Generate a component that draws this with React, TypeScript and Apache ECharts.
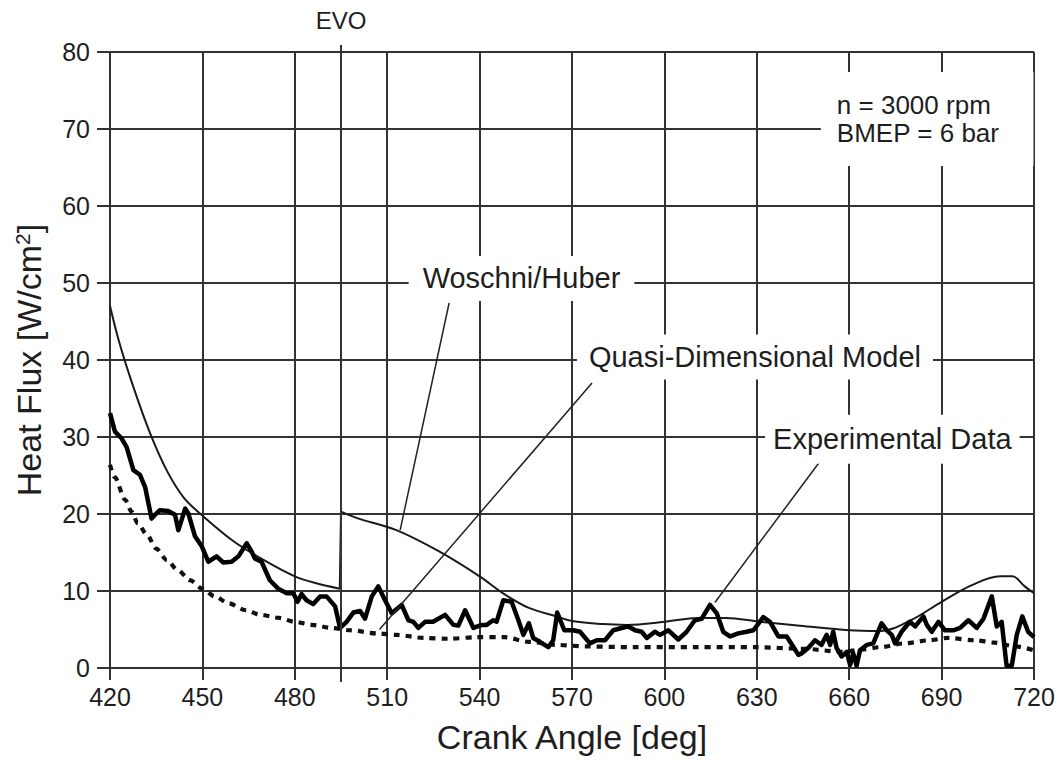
import React, { useEffect, useRef } from "react";
import * as echarts from "echarts";

// Crank angle [deg], heat flux [W/cm2]
const woschniBeforeEVO: [number, number][] = [
  [420, 47.0], [423, 42.3], [427.5, 36.6], [433, 30.5], [438.5, 25.6], [444, 22.1],
  [450, 19.8], [460, 16.5], [470, 14.0], [480, 11.9], [487, 11.0], [494.6, 10.3],
];

const woschniAfterEVO: [number, number][] = [
  [495, 20.3], [500, 19.5], [513, 17.9], [527, 15.1], [540, 11.9], [548, 9.6],
  [556, 7.8], [565, 6.7], [570, 6.1], [580, 5.7], [588, 5.6], [600, 6.0], [611, 6.5],
  [620, 6.5], [631, 6.0], [644, 5.5], [660, 4.9], [670, 4.8], [680, 6.2], [690, 8.6],
  [700, 10.8], [709, 11.9], [713, 11.9], [717, 10.6], [720, 9.7],
];

const quasiDimensional: [number, number][] = [
  [420, 26.4], [421.5, 24.8], [425, 21.8], [427, 20.3], [429, 18.8], [432, 17.3],
  [435, 15.5], [438.5, 14.0], [442, 12.7], [446, 11.4], [450, 10.3], [454, 9.3],
  [458.5, 8.4], [464, 7.5], [469, 6.9], [475, 6.5], [480, 6.0], [485.5, 5.6],
  [492, 5.2], [498, 4.9], [506.5, 4.5], [513, 4.3], [522, 3.9], [530, 3.8],
  [539, 4.0], [548, 4.0], [556, 3.4], [565, 3.0], [575, 2.8], [590, 2.7], [610, 2.7],
  [630, 2.7], [645, 2.5], [658, 2.1], [664, 2.4], [670, 2.7], [678, 3.2], [686, 3.6],
  [692, 3.9], [701, 3.6], [707, 3.3], [714, 2.8], [720, 2.3],
];

const experimental: [number, number][] = [
  [420, 33.1], [421.6, 30.7], [423.8, 29.8], [425.4, 28.7], [427.6, 25.7], [429.7, 25.1],
  [431.4, 23.5], [433.5, 19.4], [434.6, 19.9], [436.2, 20.5], [438.9, 20.4], [441.1, 19.9],
  [442.2, 17.9], [444.4, 20.7], [445.4, 20.1], [447.6, 17.1], [449.8, 15.8], [451.9, 13.8],
  [454.6, 14.5], [456.8, 13.7], [459.5, 13.8], [461.7, 14.5], [464.4, 16.2], [466, 15.1],
  [467.1, 14.2], [469.2, 13.8], [471.9, 11.4], [474.6, 10.3], [477.4, 9.7], [479.5, 9.7],
  [480.9, 8.6], [482.2, 9.6], [483.8, 8.8], [486, 8.3], [488.2, 9.3], [490.3, 9.3],
  [493.1, 8.0], [494.7, 5.2], [496.8, 6.0], [499, 7.2], [501.2, 7.4], [502.8, 6.4],
  [505, 9.3], [507.1, 10.6], [509.3, 8.8], [511.5, 7.1], [514.7, 8.2], [516.9, 6.2],
  [518.5, 6.0], [520.1, 5.2], [522.3, 6.0], [524.9, 6.0], [528.8, 6.9], [531.5, 5.6],
  [533.1, 5.5], [535.3, 7.5], [538, 5.2], [540.7, 5.6], [542.3, 5.6], [544.4, 6.2],
  [545.5, 6.0], [547.7, 8.8], [550.4, 8.6], [552.6, 6.2], [554.2, 4.3], [556, 5.8],
  [557.4, 3.9], [559.6, 3.4], [562.3, 2.7], [563.9, 3.6], [565.2, 7.2], [567.5, 4.9],
  [570.4, 4.9], [572.6, 4.7], [575.8, 3.2], [578, 3.6], [580.7, 3.6], [583.4, 4.9],
  [586.1, 5.2], [588.3, 5.4], [590.5, 4.9], [592.6, 4.7], [594.3, 3.9], [596.9, 4.7],
  [598.6, 4.3], [601.3, 4.9], [604.5, 3.7], [607.2, 4.7], [609.9, 6.2], [612.1, 6.4],
  [614.8, 8.2], [617, 7.1], [619.1, 4.7], [621.3, 4.1], [624, 4.5], [626.7, 4.7],
  [628.9, 4.9], [632.1, 6.6], [634.3, 6.0], [637, 4.1], [639.7, 4.1], [641.8, 2.8],
  [643.5, 1.7], [644.5, 1.9], [646.7, 2.6], [648.9, 3.6], [651, 3.0], [652.7, 4.3],
  [653.8, 3.0], [654.8, 4.7], [655.9, 2.6], [657.5, 1.5], [659.2, 2.1], [660.3, 0.4],
  [661.3, 1.9], [662.4, 0.3], [663.5, 2.3], [665.7, 3.0], [667.8, 3.2], [670.5, 5.8],
  [672.2, 4.9], [673.8, 4.3], [674.9, 3.2], [677, 4.7], [679.7, 6.0], [681.4, 5.4],
  [684.1, 6.7], [685.2, 5.6], [686.8, 4.7], [689, 6.0], [691.1, 4.9], [693.8, 4.9],
  [696, 5.2], [698.7, 6.2], [701.4, 5.2], [703.6, 6.4], [706.3, 9.3], [707.9, 5.4],
  [709.5, 6.0], [711.1, 0.3], [712.8, 0.3], [714.4, 4.3], [716.2, 6.7], [718.1, 4.7],
  [720, 4.0],
];

// Axis ranges
const X_MIN = 420;
const X_MAX = 720;
const X_STEP = 30;
const Y_MIN = 0;
const Y_MAX = 80;
const Y_STEP = 10;
const EVO_ANGLE = 495;

// Annotation labels: text and anchor [angle, value]
const labelWoschni = { text: "Woschni/Huber", at: [553.6, 50.6] };
const labelQuasi = { text: "Quasi-Dimensional Model", at: [629.4, 40.4] };
const labelExp = { text: "Experimental Data", at: [674.0, 29.7] };
const labelCond = { text: "n = 3000 rpm\nBMEP = 6 bar", at: [650.8, 71.3] };

// Leader lines: [from, to] in data coordinates
const leaderWoschni = [[530.1, 47.4], [514.2, 17.9]];
const leaderQuasi = [[576.5, 37.0], [507.5, 5.0]];
const leaderExp = [[652.3, 27.8], [616.4, 8.5]];

const FONT = "'Liberation Sans', Arial, Helvetica, sans-serif";
const INK = "#1e1e1e";
const GRID = "#333";

export default function App() {
  const ref = useRef<HTMLDivElement>(null);

  useEffect(() => {
    if (!ref.current) return;
    const chart = echarts.init(ref.current, undefined, { renderer: "svg" });

    const boxLabel = (text: string, at: number[], padding: number[], extra: any = {}) => ({
      coord: at,
      symbol: "rect",
      symbolSize: 1,
      itemStyle: { color: "rgba(0,0,0,0)" },
      label: {
        show: true,
        position: "inside",
        formatter: text,
        fontSize: 29,
        fontFamily: FONT,
        color: INK,
        backgroundColor: "#fff",
        padding,
        ...extra,
      },
    });

    const woschniStyle = { color: "#1a1a1a", width: 2 };
    const jump = [woschniBeforeEVO[woschniBeforeEVO.length - 1], woschniAfterEVO[0]];

    chart.setOption({
      animation: false,
      backgroundColor: "#fff",
      textStyle: { fontFamily: FONT, color: INK },
      grid: { left: 110, right: 25, top: 52, bottom: 92, containLabel: false },
      xAxis: {
        type: "value",
        min: X_MIN,
        max: X_MAX,
        interval: X_STEP,
        name: "Crank Angle [deg]",
        nameLocation: "middle",
        nameGap: 52,
        nameTextStyle: { fontSize: 34, color: INK, fontFamily: FONT },
        axisLine: { show: true, onZero: false, lineStyle: { color: GRID, width: 2 } },
        axisTick: { show: true, inside: false, length: 12, lineStyle: { color: GRID, width: 2 } },
        axisLabel: { fontSize: 25, color: INK, margin: 16, fontFamily: FONT },
        splitLine: { show: true, lineStyle: { color: GRID, width: 2 } },
      },
      yAxis: {
        type: "value",
        min: Y_MIN,
        max: Y_MAX,
        interval: Y_STEP,
        name: "Heat Flux [W/cm{sup|2}]",
        nameLocation: "middle",
        nameGap: 64,
        nameTextStyle: {
          fontSize: 34,
          color: INK,
          fontFamily: FONT,
          rich: {
            sup: { fontSize: 21, color: INK, fontFamily: FONT, verticalAlign: "top", padding: [0, 0, 12, 0] },
          },
        },
        axisLine: { show: true, onZero: false, lineStyle: { color: GRID, width: 2 } },
        axisTick: { show: true, inside: false, length: 13, lineStyle: { color: GRID, width: 2 } },
        axisLabel: { fontSize: 25, color: INK, margin: 20, fontFamily: FONT },
        splitLine: { show: true, lineStyle: { color: GRID, width: 2 } },
      },
      series: [
        {
          name: "Woschni/Huber",
          type: "line",
          data: woschniBeforeEVO,
          showSymbol: false,
          smooth: 0.35,
          z: 3,
          lineStyle: woschniStyle,
          markPoint: {
            silent: true,
            data: [
              boxLabel(labelWoschni.text, labelWoschni.at, [8, 14]),
              boxLabel(labelQuasi.text, labelQuasi.at, [8, 12]),
              boxLabel(labelExp.text, labelExp.at, [10, 8]),
              boxLabel(labelCond.text, labelCond.at, [19, 34, 19, 16], {
                align: "left",
                fontSize: 26,
                lineHeight: 28,
              }),
            ],
          },
        },
        {
          name: "Woschni/Huber (EVO step)",
          type: "line",
          data: jump,
          showSymbol: false,
          z: 3,
          lineStyle: woschniStyle,
        },
        {
          name: "Woschni/Huber (after EVO)",
          type: "line",
          data: woschniAfterEVO,
          showSymbol: false,
          smooth: 0.35,
          z: 3,
          lineStyle: woschniStyle,
        },
        {
          name: "Quasi-Dimensional Model",
          type: "line",
          data: quasiDimensional,
          showSymbol: false,
          smooth: 0.3,
          smoothMonotone: "x",
          z: 3,
          lineStyle: { color: "#111", width: 4.2, type: [6, 6], cap: "butt" },
          markLine: {
            silent: true,
            symbol: ["none", "none"],
            label: { show: false },
            lineStyle: { color: "#222", width: 1.5, type: "solid" },
            data: [leaderWoschni, leaderQuasi, leaderExp].map((seg) => [
              { coord: seg[0] },
              { coord: seg[1] },
            ]),
          },
        },
        {
          name: "Experimental Data",
          type: "line",
          data: experimental,
          showSymbol: false,
          z: 4,
          lineStyle: { color: "#000", width: 4.5, join: "round" },
        },
      ],
    });

    const [ex, yBottom] = chart.convertToPixel({ gridIndex: 0 }, [EVO_ANGLE, Y_MIN]) as number[];
    const [, yTop] = chart.convertToPixel({ gridIndex: 0 }, [EVO_ANGLE, Y_MAX]) as number[];
    chart.setOption({
      graphic: [
        {
          type: "line",
          silent: true,
          z: 5,
          shape: { x1: ex, y1: yTop - 7, x2: ex, y2: yBottom + 14 },
          style: { stroke: GRID, lineWidth: 2 },
        },
        {
          type: "text",
          silent: true,
          z: 5,
          x: ex,
          y: yTop - 32,
          style: {
            text: "EVO",
            fontSize: 24,
            fontFamily: FONT,
            fill: INK,
            align: "center",
            textAlign: "center",
            verticalAlign: "middle",
            textVerticalAlign: "middle",
          },
        },
      ],
    });

    return () => chart.dispose();
  }, []);

  return (
    <div
      ref={ref}
      style={{ position: "absolute", left: 0, top: 0, width: 1059, height: 760, background: "#fff" }}
    />
  );
}
